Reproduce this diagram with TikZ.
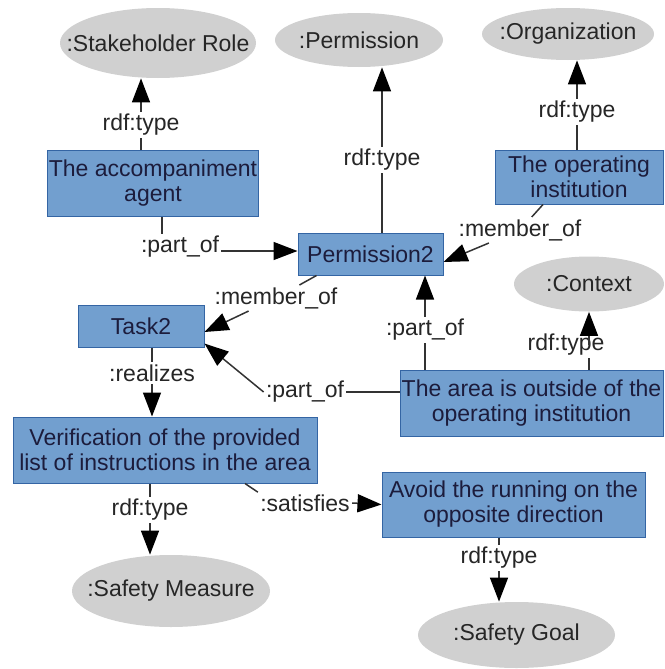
\documentclass[tikz,border=0pt]{standalone}
\usepackage{fontspec}
\setmainfont{Liberation Sans}
\usetikzlibrary{shapes.geometric, arrows.meta}

\definecolor{boxblue}{HTML}{729FCF}
\definecolor{boxline}{HTML}{3465A4}
\definecolor{boxtext}{HTML}{1C1C3C}
\definecolor{ellgray}{HTML}{D0D0D0}
\definecolor{edgegray}{HTML}{333333}

\begin{document}
\begin{tikzpicture}[x=0.5pt, y=-0.5pt,
    font=\fontsize{11.5}{12.5}\selectfont,
    entity/.style={rectangle, draw=boxline, fill=boxblue, text=boxtext, align=center, inner sep=0.5pt, line width=0.5pt},
    concept/.style={ellipse, fill=ellgray, inner sep=0pt, text=black!85},
    lbl/.style={fill=white, inner sep=1pt, text=black!85},
    rel/.style={draw=edgegray, line width=0.75pt},
    arr/.style={rel, -{Triangle[length=12pt, width=9pt, color=black]}}
]
    \useasboundingbox (0,0) rectangle (664,669);

    % Classes
    \node[concept, minimum width=98pt, minimum height=35pt] (stake) at (158,43) {\makebox[0pt]{:Stakeholder Role}};
    \node[concept, minimum width=84pt, minimum height=27pt] (perm) at (359,40) {\makebox[0pt]{:Permission}};
    \node[concept, minimum width=86pt, minimum height=26pt] (org) at (568,34) {\makebox[0pt]{:Organization}};
    \node[concept, minimum width=75pt, minimum height=27.5pt] (ctx) at (589,284) {\makebox[0pt]{:Context}};
    \node[concept, minimum width=99pt, minimum height=36pt] (sm) at (171,591) {\makebox[0pt]{:Safety Measure}};
    \node[concept, minimum width=98.5pt, minimum height=33pt] (sg) at (516.5,635) {\makebox[0pt]{:Safety Goal}};

    % Individuals
    \node[entity, minimum width=105pt, minimum height=33pt] (acc) at (153,183) {The accompaniment\\agent};
    \node[entity, minimum width=84pt, minimum height=27pt] (opinst) at (579,177) {The operating\\institution};
    \node[entity, minimum width=72.5pt, minimum height=21pt] (perm2) at (370.5,254) {Permission2};
    \node[entity, minimum width=63pt, minimum height=21pt] (task2) at (141,326) {Task2};
    \node[entity, minimum width=131.5pt, minimum height=33pt] (area) at (531.5,403) {The area is outside of the\\operating institution};
    \node[entity, minimum width=152pt, minimum height=33pt] (verif) at (165,450) {Verification of the provided\\list of instructions in the area};
    \node[entity, minimum width=131.5pt, minimum height=32.5pt] (avoid) at (513.5,504.5) {Avoid the running on the\\opposite direction};

    % rdf:type links
    \node[lbl] (t1) at (141,125) {rdf:type};
    \draw[rel] (acc.north -| t1) -- (t1);
    \draw[arr] (t1) -- (t1 |- stake.south);

    \node[lbl] (t2) at (382,160) {rdf:type};
    \draw[rel] (perm2.north -| t2) -- (t2);
    \draw[arr] (t2) -- (t2 |- perm.south);

    \node[lbl] (t3) at (577,112) {rdf:type};
    \draw[rel] (opinst.north -| t3) -- (t3);
    \draw[arr] (t3) -- (t3 |- org.south);

    \node[lbl] (t4) at (566,345) {rdf:type};
    \draw[rel] (area.north -| ctx.south) -- (t4.south -| ctx.south);
    \draw[arr] (t4.center -| ctx.south) -- (ctx.south);

    \node[lbl] (t5) at (150,510) {rdf:type};
    \draw[rel] (verif.south -| t5) -- (t5);
    \draw[arr] (t5) -- (t5 |- sm.north);

    \node[lbl] (t6) at (499,558) {rdf:type};
    \draw[rel] (avoid.south -| t6) -- (t6);
    \draw[arr] (t6) -- (t6 |- sg.north);

    % object properties
    \node[lbl] (pa1) at (180,247) {:part\_of};
    \draw[rel] ([xshift=-9pt]pa1.north) -- ([xshift=-9pt]pa1.north |- acc.south);
    \draw[arr] ([yshift=-2pt]pa1.east) -- ([yshift=-2pt]pa1.east -| perm2.west);

    \node[lbl] (mo1) at (520,230) {:member\_of};
    \draw[rel] (mo1) -- ([xshift=-18pt]opinst.south);
    \draw[arr] (mo1) -- ([yshift=-4pt]perm2.east);

    \node[lbl] (mo2) at (276,298) {:member\_of};
    \draw[rel] ([xshift=-27pt]perm2.south) -- (mo2);
    \draw[arr] (mo2) -- ([yshift=-3pt]task2.east);

    \node[lbl] (pa2) at (305,392) {:part\_of};
    \draw[rel] (pa2.east) -- (pa2.east -| area.west);
    \draw[arr] (pa2.west) -- ([yshift=2pt]task2.south east);

    \node[lbl] (pa3) at (425,330) {:part\_of};
    \draw[rel] (area.north -| pa3) -- (pa3);
    \draw[arr] (pa3) -- (pa3 |- perm2.south);

    \node[lbl] (re) at (152,373) {:realizes};
    \draw[rel] (task2.south -| re) -- (re);
    \draw[arr] (re) -- (re |- verif.north);

    \node[lbl] (sa) at (305,503) {:satisfies};
    \draw[rel] ([xshift=40pt]verif.south) -- (sa.north west);
    \draw[arr] (sa.east) -- (avoid.west);

\end{tikzpicture}
\end{document}
